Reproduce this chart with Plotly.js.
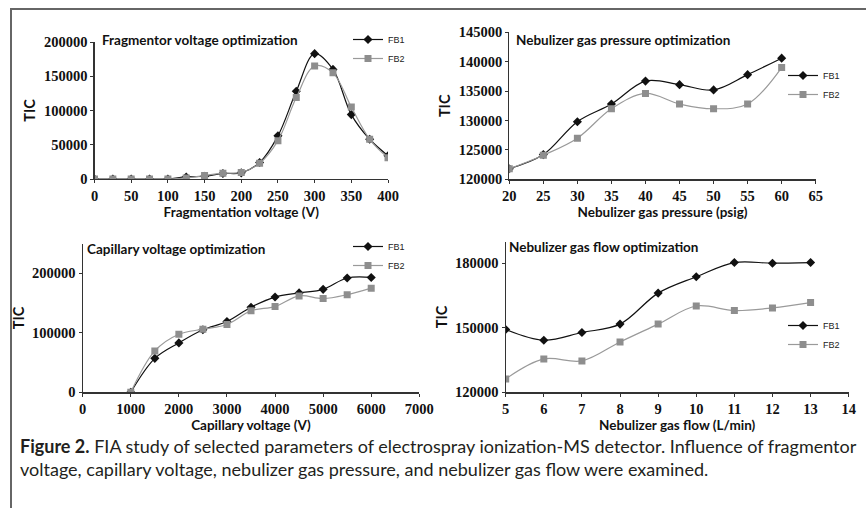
<!DOCTYPE html>
<html>
<head>
<meta charset="utf-8">
<script src="https://cdn.plot.ly/plotly-3.0.1.min.js"></script>
<style>html,body{margin:0;padding:0;background:#fff;}#chart{width:866px;height:508px;}</style>
</head>
<body>
<div id="chart"></div>
<script>
// ---- data ----
const fragV = [0,25,50,75,100,125,150,175,200,225,250,275,300,325,350,375,400];
const fragFB1 = [0,0,0,0,0,3000,4000,8000,9000,24000,63000,128000,183000,160000,94000,58000,34000];
const fragFB2 = [0,0,0,0,0,1500,5000,8500,9500,23000,56000,119000,165000,155000,105000,58000,31000];

const pressX = [20,25,30,35,40,45,50,55,60];
const pressFB1 = [121800,124200,129800,132800,136700,136100,135200,137800,140600];
const pressFB2 = [121800,124100,127000,132000,134600,132800,132000,132800,139000];

const capX = [1000,1500,2000,2500,3000,3500,4000,4500,5000,5500,6000];
const capFB1 = [0,57000,83000,105000,119000,143000,160000,167000,173000,192000,193000];
const capFB2 = [0,69500,97500,106000,114000,137000,144000,162000,157500,164000,175000];

const flowX = [5,6,7,8,9,10,11,12,13];
const flowFB1 = [149200,144200,147800,151700,166100,173700,180300,180000,180300];
const flowFB2 = [126200,135500,134600,143400,151700,160100,158000,159200,161700];

const seriesNames = ['FB1','FB2'];
const panelTitles = ['Fragmentor voltage optimization','Nebulizer gas pressure optimization','Capillary voltage optimization','Nebulizer gas flow optimization'];
const xTitles = ['Fragmentation voltage (V)','Nebulizer gas pressure (psig)','Capillary voltage (V)','Nebulizer gas flow (L/min)'];
const yTitle = 'TIC';
const captionBold = 'Figure 2.';
const captionLine1 = ' FIA study of selected parameters of electrospray ionization-MS detector. Influence of fragmentor';
const captionLine2 = 'voltage, capillary voltage, nebulizer gas pressure, and nebulizer gas flow were examined.';

// ---- layout helpers ----
const W = 866, H = 508;
const fx = p => p / W;
const fy = p => 1 - p / H;

const c1 = '#111111', c2 = '#8e8e8e';
function tf() { return {family: 'Liberation Serif', size: 14.5, color: '#111', weight: 700}; }
function ttf(s) { return {family: 'Lato', size: s, color: '#111', weight: 700}; }

function pair(x, y1, y2, ax, leg) {
  const xa = 'x' + ax, ya = 'y' + ax;
  return [
    {x: x, y: y1, name: seriesNames[0], type: 'scatter', mode: 'lines+markers', xaxis: xa, yaxis: ya, legend: leg,
     line: {color: c1, width: 1.2, shape: 'spline', smoothing: 1}, marker: {symbol: 'diamond', size: 7, color: c1}},
    {x: x, y: y2, name: seriesNames[1], type: 'scatter', mode: 'lines+markers', xaxis: xa, yaxis: ya, legend: leg,
     line: {color: '#9a9a9a', width: 1.2, shape: 'spline', smoothing: 1}, marker: {symbol: 'square', size: 7, color: c2}}
  ];
}

const data = [].concat(
  pair(fragV, fragFB1, fragFB2, '', 'legend'),
  pair(pressX, pressFB1, pressFB2, '2', 'legend2'),
  pair(capX, capFB1, capFB2, '3', 'legend3'),
  pair(flowX, flowFB1, flowFB2, '4', 'legend4')
);

function xax(dom, range, dtick, anchor, title, standoff) {
  return {domain: dom, range: range, dtick: dtick, tick0: range[0], anchor: anchor, showgrid: false, zeroline: false,
    showline: true, linecolor: '#333', linewidth: 1.2, ticks: 'outside', ticklen: 3, tickcolor: '#333',
    tickfont: tf(),
    title: {text: title, font: ttf(13.5), standoff: standoff}};
}
function yax(dom, range, dtick, anchor, standoff) {
  return {domain: dom, range: range, dtick: dtick, tick0: range[0], anchor: anchor, showgrid: false, zeroline: false,
    showline: true, linecolor: '#333', linewidth: 1.2, ticks: 'outside', ticklen: 3, tickcolor: '#333',
    tickfont: tf(), tickformat: 'd',
    title: {text: yTitle, font: ttf(14.5), standoff: standoff}};
}

function leg(xp, yp) {
  return {x: fx(xp), y: fy(yp), xanchor: 'left', yanchor: 'top',
    font: {family: 'Liberation Sans', size: 9, color: '#222', weight: 400},
    bgcolor: 'rgba(0,0,0,0)', borderwidth: 0, tracegroupgap: 0};
}

function ann(text, xp, yp) {
  return {text: text, x: fx(xp), y: fy(yp), xref: 'paper', yref: 'paper', xanchor: 'left', yanchor: 'middle', showarrow: false, font: ttf(13.5)};
}

const layout = {
  width: W, height: H,
  margin: {l: 0, r: 0, t: 0, b: 0},
  font: {family: 'Liberation Sans', size: 12, color: '#111'},
  paper_bgcolor: '#fff', plot_bgcolor: 'rgba(0,0,0,0)',
  showlegend: true,
  xaxis: xax([fx(94.5), fx(388)], [0, 400], 50, 'y', xTitles[0], 4),
  yaxis: yax([fy(179), fy(42)], [0, 200000], 50000, 'x', 4),
  xaxis2: xax([fx(509.3), fx(815.7)], [20, 65], 5, 'y2', xTitles[1], 2),
  yaxis2: yax([fy(179.3), fy(32.3)], [120000, 145000], 5000, 'x2', 4),
  xaxis3: xax([fx(82.7), fx(419.3)], [0, 7000], 1000, 'y3', xTitles[2], 4),
  yaxis3: yax([fy(392.3), fy(243.5)], [0, 250000], 100000, 'x3', 4),
  xaxis4: xax([fx(505.7), fx(848.7)], [5, 14], 1, 'y4', xTitles[3], 4),
  yaxis4: yax([fy(392.3), fy(241.7)], [120000, 190000], 30000, 'x4', 4),
  legend: leg(348, 25),
  legend2: leg(783, 61),
  legend3: leg(348, 232),
  legend4: leg(783, 311),
  annotations: [
    ann(panelTitles[0], 100, 40),
    ann(panelTitles[1], 514, 40),
    ann(panelTitles[2], 85, 249),
    ann(panelTitles[3], 507, 247),
    {text: '<b>' + captionBold + '</b>' + captionLine1 + '<br>' + captionLine2, x: fx(18), y: fy(433), xref: 'paper', yref: 'paper',
     xanchor: 'left', yanchor: 'top', align: 'left', showarrow: false,
     font: {family: 'Lato', size: 18, color: '#231f20', weight: 400}}
  ],
  shapes: [
    {type: 'line', xref: 'paper', yref: 'paper', x0: fx(10), x1: 1, y0: fy(9), y1: fy(9), line: {color: '#666', width: 2}},
    {type: 'line', xref: 'paper', yref: 'paper', x0: fx(11), x1: fx(11), y0: fy(9), y1: 0, line: {color: '#666', width: 2}}
  ]
};

Plotly.newPlot('chart', data, layout, {staticPlot: true, displayModeBar: false});
</script>
</body>
</html>
